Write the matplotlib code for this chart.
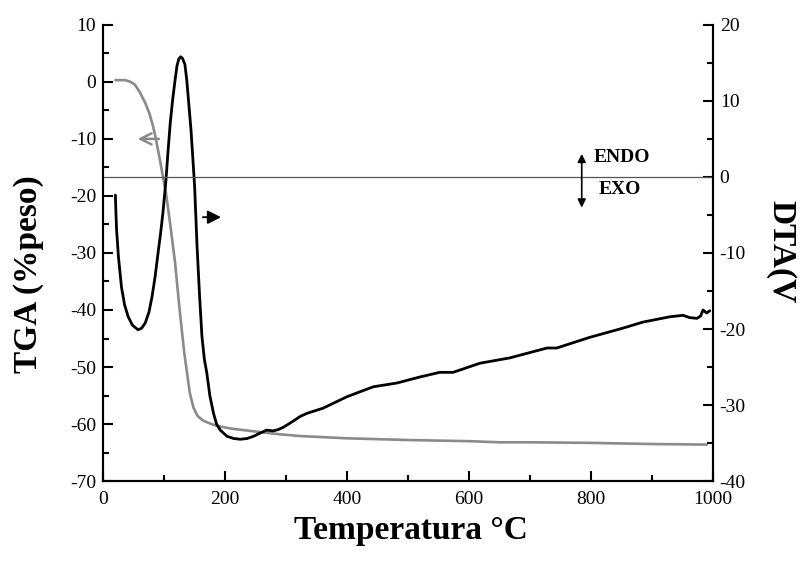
import matplotlib
matplotlib.use("Agg")
import matplotlib.pyplot as plt
from matplotlib.ticker import MultipleLocator

# ---- data ----
tga_temp = [20, 36, 45, 52, 60, 69, 76, 82, 86, 90, 94, 98, 103, 110, 118,
            124, 129, 133, 137, 142, 148, 155, 164, 175, 186, 210, 241, 290,
            323, 400, 500, 600, 651, 700, 800, 900, 990]
tga_val = [0.3, 0.3, 0.0, -0.5, -1.8, -3.7, -5.6, -7.9, -9.8, -12.0, -14.2,
           -16.7, -19.5, -25.0, -31.8, -38.5, -43.6, -47.5, -50.6, -54.5,
           -57.1, -58.6, -59.4, -59.9, -60.3, -60.8, -61.2, -61.8, -62.1,
           -62.5, -62.8, -63.0, -63.2, -63.2, -63.3, -63.5, -63.6]

dta_temp = [20, 21, 22, 25, 30, 35, 41, 48, 57, 63, 69, 75, 80, 85, 90, 94,
            98, 103, 106, 110, 114, 118, 121, 124, 127, 130, 134, 137, 140,
            144, 147, 150, 154, 158, 162, 166, 170, 175, 181, 186, 192, 203,
            214, 225, 236, 247, 257, 268, 279, 288, 296, 310, 323, 334, 361,
            400, 443, 482, 520, 552, 574, 618, 646, 667, 728, 744, 798, 852,
            885, 929, 951, 962, 974, 980, 984, 990, 995]
dta_val = [-2.4, -5.0, -7.0, -10.5, -14.5, -16.8, -18.4, -19.5, -20.1, -19.9,
           -19.2, -17.8, -15.8, -13.2, -10.0, -7.5, -4.7, -0.4, 3.0, 7.1,
           10.2, 12.8, 14.6, 15.5, 15.8, 15.6, 14.8, 12.8, 10.0, 6.2, 2.5,
           -1.3, -9.2, -15.5, -21.0, -24.0, -25.8, -28.8, -31.1, -32.5, -33.3,
           -34.1, -34.4, -34.5, -34.4, -34.1, -33.7, -33.3, -33.4, -33.2,
           -32.9, -32.2, -31.5, -31.1, -30.4, -28.9, -27.6, -27.1, -26.3,
           -25.7, -25.7, -24.5, -24.1, -23.8, -22.5, -22.5, -21.1, -19.9,
           -19.1, -18.4, -18.2, -18.5, -18.6, -18.3, -17.5, -17.9, -17.6]

x_ticks = [0, 200, 400, 600, 800, 1000]
tga_ticks = [10, 0, -10, -20, -30, -40, -50, -60, -70]
dta_ticks = [20, 10, 0, -10, -20, -30, -40]

plt.rcParams['font.family'] = ['Liberation Serif', 'DejaVu Serif']
plt.rcParams['axes.unicode_minus'] = False

fig = plt.figure(figsize=(8, 5.64), dpi=100)
ax = fig.add_axes([0.129, 0.147, 0.762, 0.809])
ax2 = ax.twinx()

gray = '#8a8a8a'
ax.plot(tga_temp, tga_val, color=gray, lw=1.9, solid_capstyle='round',
        solid_joinstyle='round')
ax2.plot(dta_temp, dta_val, color='black', lw=2.0, solid_capstyle='round',
         solid_joinstyle='round')
ax2.axhline(0, color='#555555', lw=0.9)

ax.set_xlim(0, 1000)
ax.set_ylim(-70, 10)
ax2.set_ylim(-40, 20)

ax.set_xticks(x_ticks)
ax.set_yticks(tga_ticks)
ax2.set_yticks(dta_ticks)
ax.xaxis.set_minor_locator(MultipleLocator(100))
ax.yaxis.set_minor_locator(MultipleLocator(5))
ax2.yaxis.set_minor_locator(MultipleLocator(5))

for a in (ax, ax2):
    a.spines['top'].set_visible(False)
    for s in ('left', 'right', 'bottom'):
        a.spines[s].set_linewidth(1.5)
    a.tick_params(which='major', direction='in', length=7, width=1.5,
                  labelsize=14, pad=5)
    a.tick_params(which='minor', direction='in', length=4, width=1.5)

ax.tick_params(axis='x', which='both', top=False)
ax.tick_params(axis='x', which='major', pad=7)

fig.text(0.514, 0.060, 'Temperatura °C', fontsize=24, fontweight='bold',
         ha='center', va='center')
fig.text(0.036, 0.514, 'TGA (%peso)', fontsize=24, fontweight='bold',
         ha='center', va='center', rotation=90)
fig.text(0.976, 0.553, 'DTA(V', fontsize=24, fontweight='bold',
         ha='center', va='center', rotation=-90)

# annotations
ax.annotate('', xy=(52, -10), xytext=(96, -10),
            arrowprops=dict(arrowstyle='->', color=gray, lw=1.8,
                            mutation_scale=20))
ax2.annotate('', xy=(198, -5.3), xytext=(159, -5.3),
             arrowprops=dict(arrowstyle='-|>', color='black', lw=1.4,
                             mutation_scale=20))
ax2.annotate('', xy=(785, 3.4), xytext=(785, -4.4),
             arrowprops=dict(arrowstyle='<|-|>', color='black', lw=1.2,
                             mutation_scale=12))
ax2.text(804, 2.6, 'ENDO', fontsize=14, fontweight='bold', va='center',
         ha='left')
ax2.text(812, -1.7, 'EXO', fontsize=14, fontweight='bold', va='center',
         ha='left')

fig.savefig('out.png', dpi=100)
